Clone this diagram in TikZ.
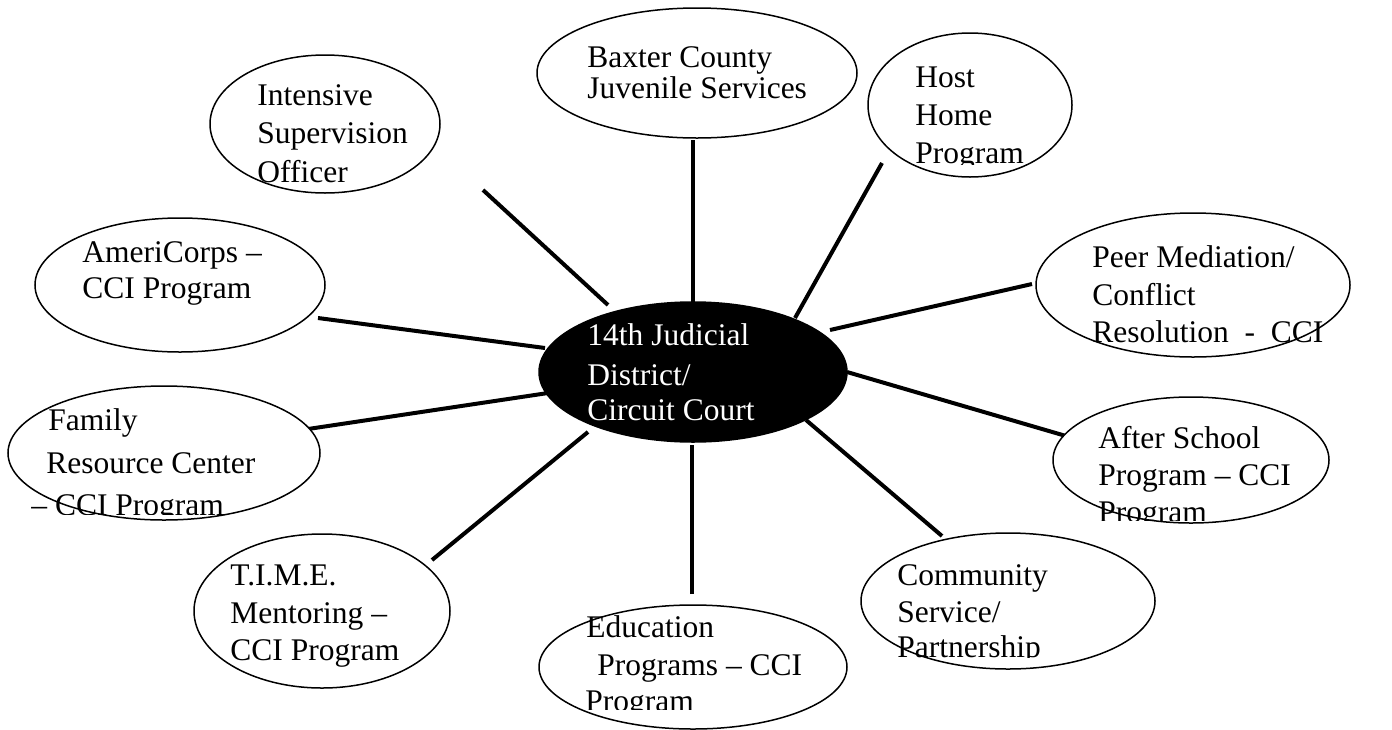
\documentclass[tikz,border=0pt]{standalone}
\usepackage{fontspec}
\setmainfont{Liberation Serif}
\usetikzlibrary{shapes.geometric}
\tikzset{
  bubble/.style={draw=black, line width=0.75pt, ellipse, inner sep=0pt, fill=white},
  hub/.style={draw=black, line width=0.75pt, ellipse, inner sep=0pt, fill=black},
  txt/.style={anchor=base west, inner sep=0pt, font=\fontsize{15.75pt}{18pt}\selectfont},
  wtxt/.style={txt, text=white},
  spoke/.style={line width=2pt, line cap=butt}
}
\begin{document}
\begin{tikzpicture}[x=0.5pt,y=-0.5pt]
\useasboundingbox[fill=white] (0,0) rectangle (1392,729);
% spokes (drawn first)
\coordinate (s1a) at (483,190); \coordinate (s1b) at (608,305);
\coordinate (s2a) at (693,140); \coordinate (s2b) at (693,303);
\coordinate (s3a) at (882,163); \coordinate (s3b) at (795,318);
\coordinate (s4a) at (1032,284); \coordinate (s4b) at (830,330);
\coordinate (s5a) at (318,318); \coordinate (s5b) at (545,348);
\coordinate (s6a) at (308,429); \coordinate (s6b) at (548,393);
\coordinate (s7a) at (1066,436); \coordinate (s7b) at (847,372);
\coordinate (s8a) at (432,560); \coordinate (s8b) at (588,432);
\coordinate (s9a) at (692,594); \coordinate (s9b) at (692,445);
\coordinate (s10a) at (942,536); \coordinate (s10b) at (806,420);
\foreach \i in {1,...,10} {\draw[spoke] (s\i a) -- (s\i b);}
% ellipses
\node[bubble, minimum width=115pt, minimum height=69pt] (isp) at (325,124) {};
\node[bubble, minimum width=160pt, minimum height=65pt] (bax) at (697,73) {};
\node[bubble, minimum width=102pt, minimum height=72pt] (host) at (970,105) {};
\node[bubble, minimum width=157pt, minimum height=72pt] (peer) at (1193,285) {};
\node[bubble, minimum width=145pt, minimum height=67pt] (amer) at (180,285) {};
\node[bubble, minimum width=156pt, minimum height=67pt] (fam) at (164,453) {};
\node[bubble, minimum width=138pt, minimum height=63pt] (after) at (1191,460) {};
\node[bubble, minimum width=147pt, minimum height=68pt] (comm) at (1008,601) {};
\node[bubble, minimum width=128pt, minimum height=77pt] (time) at (322,611) {};
\node[bubble, minimum width=154pt, minimum height=62pt] (edu) at (693,667) {};
\node[hub, minimum width=154pt, minimum height=70pt] (ctr) at (693,372) {};
% texts
\node[txt] (isp1) at (257,105) {Intensive};
\node[txt] (isp2) at (257,143) {Supervision};
\begin{scope}\clip (200,150) rectangle (460,183);
\node[txt] (isp3) at (257,182) {Officer};
\end{scope}
\node[txt] (bax1) at (587,67) {Baxter County};
\node[txt] (bax2) at (587,98) {Juvenile Services};
\node[txt] (host1) at (915,87) {Host};
\node[txt] (host2) at (915,125) {Home};
\begin{scope}\clip (900,130) rectangle (1080,164);
\node[txt] (host3) at (915,163) {Program};
\end{scope}
\node[txt] (peer1) at (1092,267) {Peer Mediation/};
\node[txt] (peer2) at (1092,305) {Conflict};
\node[txt] (peer3) at (1092,342) {Resolution\ \ -\ \ CCI};
\node[txt] (amer1) at (82,262) {AmeriCorps --};
\node[txt] (amer2) at (82,298) {CCI Program};
\node[txt] (fam1) at (48,430) {Family};
\node[txt] (fam2) at (46,473) {Resource Center};
\begin{scope}\clip (10,480) rectangle (330,514);
\node[txt] (fam3) at (31,515) {-- CCI Program};
\end{scope}
\node[txt] (after1) at (1098,448) {After School};
\node[txt] (after2) at (1098,485) {Program -- CCI};
\begin{scope}\clip (1060,490) rectangle (1340,520);
\node[txt] (after3) at (1098,522) {Program};
\end{scope}
\node[txt] (comm1) at (897,585) {Community};
\node[txt] (comm2) at (897,622) {Service/};
\begin{scope}\clip (870,630) rectangle (1160,657);
\node[txt] (comm3) at (897,657) {Partnership};
\end{scope}
\node[txt] (time1) at (230,585) {T.I.M.E.};
\node[txt] (time2) at (230,623) {Mentoring --};
\node[txt] (time3) at (230,660) {CCI Program};
\node[txt] (edu1) at (586,637) {Education};
\node[txt] (edu2) at (597,675) {Programs -- CCI};
\begin{scope}\clip (540,680) rectangle (850,709);
\node[txt] (edu3) at (585,711) {Program};
\end{scope}
\node[wtxt] (ctr1) at (587,345) {14th Judicial};
\node[wtxt] (ctr2) at (587,385) {District/};
\node[wtxt] (ctr3) at (587,420) {Circuit Court};
\end{tikzpicture}
\end{document}
